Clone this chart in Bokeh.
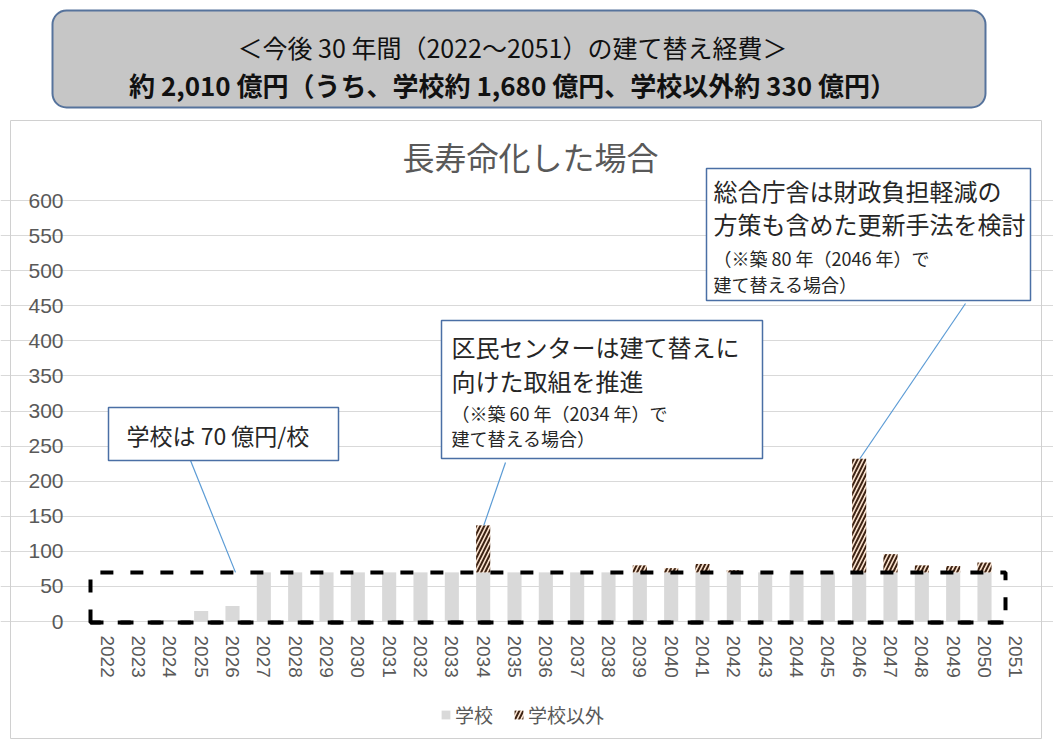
from bokeh.models import (Plot, Range1d, VBar, Segment, FixedTicker, Label, BoxAnnotation,
                          PolyAnnotation, Legend, LegendItem, ColumnDataSource,
                          LinearAxis, Grid)
from bokeh.embed import file_html
from bokeh.resources import INLINE

# ---------------- data ----------------
years = ["2022", "2023", "2024", "2025", "2026", "2027", "2028", "2029", "2030", "2031",
         "2032", "2033", "2034", "2035", "2036", "2037", "2038", "2039", "2040", "2041",
         "2042", "2043", "2044", "2045", "2046", "2047", "2048", "2049", "2050", "2051"]
school = [0, 0, 2, 15, 22, 70, 70, 70, 70, 70,
          70, 70, 70, 70, 70, 70, 70, 70, 70, 70,
          70, 70, 70, 70, 70, 70, 70, 70, 70, 0]
other = [0, 0, 0, 0, 0, 0, 0, 0, 0, 0,
         0, 0, 67, 0, 0, 0, 0, 10, 6, 12,
         3, 0, 0, 0, 162, 26, 10, 9, 14, 0]
y_ticks = [0, 50, 100, 150, 200, 250, 300, 350, 400, 450, 500, 550, 600]
series_names = ["学校", "学校以外"]
school_unit_cost = 70

# ---------------- geometry (page pixels) ----------------
W, H = 1053, 742
FL, FR, FT, FB = 91, 1031, 200, 621          # plotting area edges
X0, X1 = -0.5, len(years) - 0.5
Y0, Y1 = 0, 600


def dx(px):
    return X0 + (px - FL) / (FR - FL) * (X1 - X0)


def dy(py):
    return Y0 + (FB - py) / (FB - FT) * (Y1 - Y0)


p = Plot(width=W, height=H, x_range=Range1d(dx(0), dx(W)), y_range=Range1d(dy(H), dy(0)),
         output_backend="svg", toolbar_location=None,
         min_border=0, min_border_left=0, min_border_right=0,
         min_border_top=0, min_border_bottom=0,
         outline_line_color=None, background_fill_color="white",
         border_fill_color="white")

xs = list(range(len(years)))
total = [s + o for s, o in zip(school, other)]
src = ColumnDataSource(dict(x=xs, school=school, other=other, total=total))

# horizontal gridlines (only across the category span)
p.add_layout(Grid(dimension=1, ticker=FixedTicker(ticks=y_ticks), bounds=(X0, X1),
                  grid_line_color="#d9d9d9", grid_line_width=1))

r_school = p.add_glyph(src, VBar(x="x", bottom=0, top="school", width=0.45,
                                 fill_color="#d9d9d9", line_color=None))
r_other = p.add_glyph(src, VBar(x="x", bottom="school", top="total", width=0.45,
                                fill_color="#fbe3cf", line_color=None,
                                hatch_pattern="/", hatch_color="#3d2314",
                                hatch_weight=2, hatch_scale=8))

# axes, fixed at the data origin
xaxis = LinearAxis(fixed_location=0, ticker=FixedTicker(ticks=xs), bounds=(X0, X1),
                   major_label_overrides={i: y for i, y in enumerate(years)},
                   major_label_orientation="vertical",
                   major_label_text_font="Liberation Sans",
                   major_label_text_font_size="19px",
                   major_label_text_color="#595959",
                   axis_line_color="#d9d9d9",
                   major_tick_line_color=None, minor_tick_line_color=None,
                   major_label_standoff=8)
p.add_layout(xaxis, "below")

yaxis = LinearAxis(fixed_location=X0, ticker=FixedTicker(ticks=y_ticks), bounds=(Y0, Y1),
                   major_label_text_font="Liberation Sans",
                   major_label_text_font_size="21px",
                   major_label_text_color="#595959",
                   axis_line_color=None,
                   major_tick_line_color=None, minor_tick_line_color=None,
                   major_label_standoff=22)
p.add_layout(yaxis, "left")

# legend
legend = Legend(items=[LegendItem(label=series_names[0], renderers=[r_school]),
                       LegendItem(label=series_names[1], renderers=[r_other])],
                location=(440, 14), orientation="horizontal",
                glyph_width=11, glyph_height=11, label_standoff=4, spacing=20,
                padding=0, margin=0, background_fill_alpha=0, border_line_color=None,
                label_text_font="Noto Sans CJK JP", label_text_font_size="19px",
                label_text_color="#595959")
p.add_layout(legend, "center")

# outer chart panel border
p.add_layout(BoxAnnotation(left=dx(10), right=dx(1041), top=dy(120), bottom=dy(738),
                           fill_alpha=0, line_color="#d0d0d0", line_alpha=1, line_width=1))

# dashed highlight of school cost level
p.add_layout(PolyAnnotation(xs=[dx(90), dx(90), dx(1005), dx(1005)],
                            ys=[dy(622), school_unit_cost, school_unit_cost, dy(622)],
                            fill_alpha=0, line_color="black", line_alpha=1, line_width=4,
                            line_dash="13 17"))
p.add_layout(PolyAnnotation(xs=[dx(90), dx(1005)], ys=[dy(622), dy(622)],
                            fill_alpha=0, line_color="black", line_alpha=1, line_width=4,
                            line_dash="13 17"))

# leader lines (end at the bar tops)
lead = ColumnDataSource(dict(x0=[dx(190), dx(505), dx(965)], y0=[dy(460), dy(462), dy(303)],
                             x1=[dx(235), xs[12] + 0.02, xs[24] + 0.02],
                             y1=[school_unit_cost, total[12], total[24]]))
p.add_glyph(lead, Segment(x0="x0", y0="y0", x1="x1", y1="y1",
                          line_color="#5b9bd5", line_width=1.2))


def add_text(text, px, py, size, align="left", bold=False, color="#262626",
             font="Noto Sans CJK JP"):
    p.add_layout(Label(x=dx(px), y=dy(py), text=text, text_align=align,
                       text_baseline="middle", text_font=font,
                       text_font_size=f"{size}px", text_color=color,
                       text_font_style="bold" if bold else "normal"))


def add_box(l, r, t, b, fill, line, width=1.5, radius=0):
    p.add_layout(BoxAnnotation(left=dx(l), right=dx(r), top=dy(t), bottom=dy(b),
                               fill_color=fill, fill_alpha=1, line_color=line,
                               line_alpha=1, line_width=width, border_radius=radius))


# banner
add_box(52, 985, 10, 107, "#c6c6c6", "#56739c", width=2, radius=14)
add_text("＜今後 30 年間（2022～2051）の建て替え経費＞", 512, 46, 25, align="center", color="#111111")
add_text("約 2,010 億円（うち、学校約 1,680 億円、学校以外約 330 億円）", 512, 84, 26,
         align="center", bold=True, color="#111111")

# chart title
add_text("長寿命化した場合", 530, 155, 32, align="center", color="#595959")

# callouts
add_box(108, 338, 407, 460, "white", "#4a6fa5")
add_text("学校は 70 億円/校", 126, 434, 23)

add_box(441, 762, 320, 458, "white", "#4a6fa5")
add_text("区民センターは建て替えに", 451, 346, 24)
add_text("向けた取組を推進", 451, 380, 24)
add_text("（※築 60 年（2034 年）で", 451, 412, 18)
add_text("建て替える場合）", 451, 437, 18)

add_box(706, 1030, 168, 300, "white", "#4a6fa5")
add_text("総合庁舎は財政負担軽減の", 713, 190, 24)
add_text("方策も含めた更新手法を検討", 713, 223, 24)
add_text("（※築 80 年（2046 年）で", 713, 257, 18)
add_text("建て替える場合）", 713, 283, 18)

open("out.html", "w").write(file_html(p, INLINE))
